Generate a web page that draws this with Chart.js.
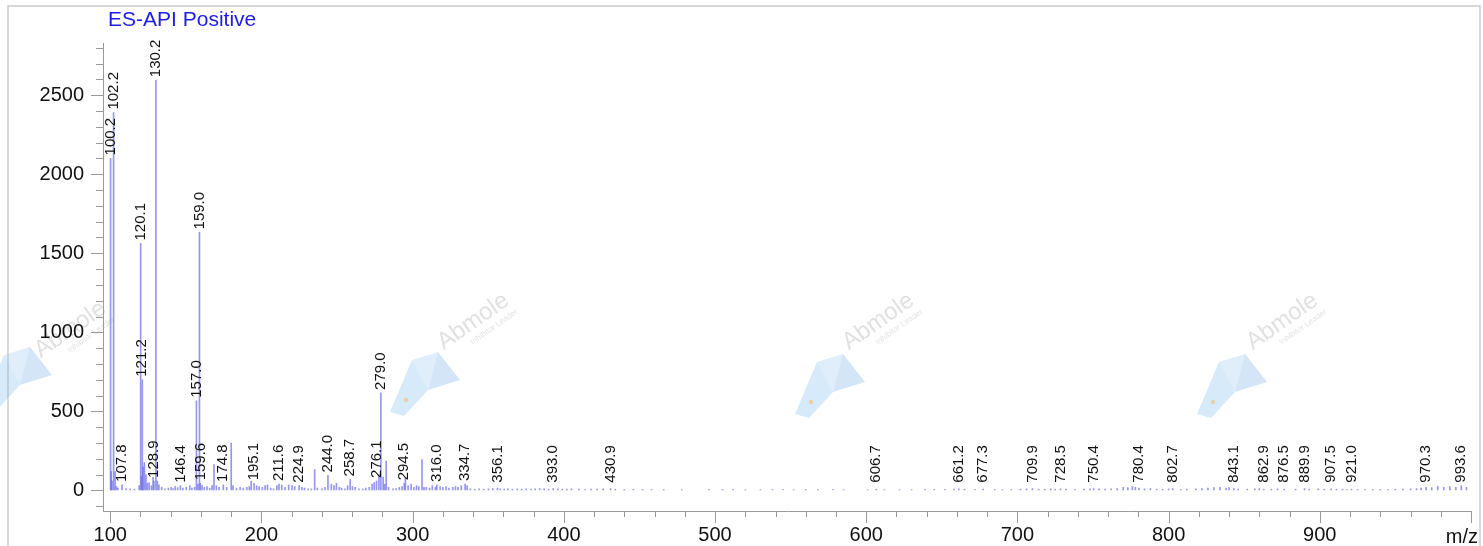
<!DOCTYPE html>
<html lang="en">
<head>
    <meta charset="UTF-8">
    <title>ES-API Positive</title>
    <script src="https://cdn.jsdelivr.net/npm/chart.js"></script>
    <style>
        html, body { margin: 0; padding: 0; background: #fff; }
        #wrap { width: 1483px; height: 546px; }
    </style>
</head>
<body>
    <div id="wrap"><canvas id="msChart"></canvas></div>

    <script>
        // peak list (m/z and intensity)
        const peakMz = [
            100.2, 100.6, 101.2, 102.2, 103.2, 104.1, 105.0, 107.8, 110.5, 113.2, 116.0, 119.1,
            120.1, 120.6, 121.2, 121.7, 122.6, 123.6, 124.5, 125.7, 127.2, 128.3, 128.9, 130.2,
            131.2, 132.2, 134.0, 136.1, 138.4, 140.2, 141.5, 143.0, 144.6, 146.4, 148.0, 150.3,
            152.6, 154.0, 155.8, 157.0, 158.0, 159.0, 159.6, 160.7, 162.2, 164.0, 165.8, 167.3,
            168.6, 170.2, 172.0, 174.8, 177.0, 180.0, 181.2, 183.5, 185.9, 188.0, 190.3, 192.0,
            193.2, 195.1, 196.8, 198.5, 200.6, 202.4, 204.0, 206.1, 208.0, 210.2, 211.6, 213.4,
            215.6, 218.0, 220.2, 222.0, 224.9, 226.8, 228.5, 231.0, 233.0, 235.2, 237.0, 240.0,
            242.0, 244.0, 246.2, 248.0, 249.6, 251.5, 253.0, 255.2, 257.0, 258.7, 260.2, 262.0,
            264.5, 267.0, 269.0, 271.3, 273.2, 274.6, 276.1, 277.7, 279.0, 280.5, 281.5, 282.5,
            284.0, 287.0, 289.0, 291.2, 293.0, 294.5, 295.2, 297.0, 299.0, 300.8, 302.6, 304.1,
            306.2, 307.5, 309.0, 311.2, 313.0, 315.0, 316.0, 318.2, 320.0, 322.1, 324.0, 326.5,
            328.3, 330.0, 332.2, 334.7, 336.0, 338.2, 341.0, 344.0, 347.0, 350.2, 353.0, 356.1,
            358.0, 360.5, 363.0, 366.0, 369.2, 372.0, 375.0, 378.3, 381.0, 384.0, 387.0, 390.0,
            393.0, 396.0, 399.0, 402.0, 405.0, 410.0, 414.0, 418.0, 422.0, 426.0, 430.9, 434.0,
            440.0, 446.0, 452.0, 458.0, 466.0, 478.0, 496.0, 505.0, 512.0, 520.0, 530.0, 538.0,
            545.0, 552.0, 560.0, 568.0, 578.0, 585.0, 601.0, 606.7, 612.0, 622.0, 630.0, 639.0,
            645.0, 652.0, 658.0, 661.2, 665.0, 672.0, 677.3, 685.0, 690.0, 696.0, 702.0, 706.0,
            709.9, 714.0, 718.0, 722.0, 725.0, 728.5, 732.0, 738.0, 744.0, 748.0, 750.4, 754.0,
            758.0, 762.0, 766.0, 770.0, 773.0, 776.0, 778.0, 780.4, 784.0, 788.0, 792.0, 796.0,
            800.0, 802.7, 808.0, 812.0, 818.0, 822.0, 826.0, 830.0, 834.0, 838.0, 840.0, 843.1,
            846.0, 852.0, 857.0, 860.0, 862.9, 868.0, 872.0, 876.5, 884.0, 889.9, 893.0, 899.0,
            903.0, 907.5, 911.0, 915.0, 918.0, 921.0, 925.0, 930.0, 935.0, 940.0, 945.0, 950.0,
            955.0, 960.0, 964.0, 967.0, 970.3, 974.0, 978.0, 982.0, 986.0, 990.0, 993.6, 997.0
        ];
        const peakIntensity = [
            2100, 120, 60, 2390, 120, 25, 15, 35, 12, 10, 8, 30,
            1562, 90, 700, 150, 176, 100, 45, 50, 30, 85, 60, 2595,
            60, 35, 20, 10, 15, 20, 12, 25, 18, 30, 15, 20,
            30, 15, 20, 567, 40, 1632, 45, 30, 20, 25, 15, 30,
            164, 30, 20, 35, 20, 300, 30, 15, 20, 15, 20, 25,
            60, 45, 30, 25, 20, 30, 35, 15, 10, 30, 40, 35,
            20, 35, 30, 25, 30, 20, 15, 10, 10, 132, 15, 10,
            20, 95, 40, 30, 45, 20, 15, 10, 30, 70, 25, 20,
            10, 10, 15, 20, 40, 50, 60, 100, 617, 85, 40, 185,
            20, 10, 12, 20, 25, 45, 80, 30, 40, 20, 30, 25,
            195, 20, 20, 15, 30, 20, 35, 25, 20, 25, 15, 20,
            25, 20, 30, 40, 30, 10, 8, 10, 8, 10, 12, 15,
            10, 8, 10, 8, 10, 8, 10, 8, 10, 12, 10, 8,
            12, 10, 8, 8, 10, 8, 6, 8, 8, 10, 12, 8,
            6, 6, 6, 6, 6, 5, 5, 6, 6, 5, 5, 6,
            6, 5, 6, 5, 5, 5, 5, 8, 5, 5, 5, 6,
            6, 6, 8, 10, 8, 6, 8, 6, 5, 6, 8, 10,
            12, 8, 8, 10, 8, 10, 8, 6, 8, 10, 12, 10,
            8, 10, 12, 20, 18, 25, 20, 15, 10, 12, 8, 8,
            10, 12, 6, 8, 10, 12, 15, 18, 20, 15, 18, 12,
            8, 8, 10, 12, 8, 8, 10, 8, 8, 12, 8, 10,
            8, 10, 8, 8, 6, 8, 6, 6, 6, 6, 6, 8,
            8, 10, 12, 15, 20, 18, 25, 20, 25, 20, 30, 20
        ];
        // peaks that carry an m/z label
        const labelledMz = [
            100.2, 102.2, 107.8, 120.1, 121.2, 128.9, 130.2, 146.4, 157.0, 159.0, 159.6, 174.8,
            195.1, 211.6, 224.9, 244.0, 258.7, 276.1, 279.0, 294.5, 316.0, 334.7, 356.1, 393.0,
            430.9, 606.7, 661.2, 677.3, 709.9, 728.5, 750.4, 780.4, 802.7, 843.1, 862.9, 876.5,
            889.9, 907.5, 921.0, 970.3, 993.6
        ];
        const xTicks = [];
        for (let v = 100; v <= 1000; v += 20) xTicks.push(v);
        const yTicks = [];
        for (let v = -100; v <= 2800; v += 100) yTicks.push(v);

        const FONT = '"Liberation Sans", Arial, sans-serif';
        const AXIS_GREY = '#9a9a9a';

        // light "Abmole" logo stamp, drawn relative to its top-left corner
        function drawStamp(ctx, lx, ly, tx, ty) {
            ctx.save();
            ctx.fillStyle = 'rgba(120,185,235,0.30)';
            ctx.beginPath();
            ctx.moveTo(lx, ly + 62); ctx.lineTo(lx + 22, ly + 10); ctx.lineTo(lx + 38, ly + 40);
            ctx.lineTo(lx + 14, ly + 66); ctx.closePath(); ctx.fill();
            ctx.fillStyle = 'rgba(150,200,240,0.30)';
            ctx.beginPath();
            ctx.moveTo(lx + 22, ly + 10); ctx.lineTo(lx + 48, ly + 2); ctx.lineTo(lx + 38, ly + 40);
            ctx.closePath(); ctx.fill();
            ctx.fillStyle = 'rgba(110,170,225,0.30)';
            ctx.beginPath();
            ctx.moveTo(lx + 48, ly + 2); ctx.lineTo(lx + 70, ly + 30); ctx.lineTo(lx + 38, ly + 40);
            ctx.closePath(); ctx.fill();
            ctx.fillStyle = 'rgba(245,190,110,0.6)';
            ctx.beginPath(); ctx.arc(lx + 16, ly + 50, 2.2, 0, Math.PI * 2); ctx.fill();

            ctx.translate(tx, ty);
            ctx.rotate(-35 * Math.PI / 180);
            ctx.fillStyle = 'rgba(120,120,120,0.22)';
            ctx.font = '24px ' + FONT;
            ctx.textAlign = 'center';
            ctx.fillText('Abmole', 0, 0);
            ctx.font = '8px ' + FONT;
            ctx.fillText('Inhibitor Leader', 14, 12);
            ctx.restore();
        }

        // frame, title, watermarks
        const decorPlugin = {
            id: 'decor',
            beforeDraw(chart) {
                const ctx = chart.ctx;
                ctx.save();
                ctx.fillStyle = '#fff';
                ctx.fillRect(0, 0, chart.width, chart.height);
                ctx.strokeStyle = '#cccccc';
                ctx.lineWidth = 1.5;
                ctx.strokeRect(8, 6, 1472, 600);

                drawStamp(ctx, -18, 345, 74, 335);
                drawStamp(ctx, 390, 350, 477, 327);
                drawStamp(ctx, 795, 352, 882, 327);
                drawStamp(ctx, 1197, 352, 1286, 327);

                ctx.fillStyle = '#1c1ce6';
                ctx.font = '21px ' + FONT;
                ctx.textBaseline = 'alphabetic';
                ctx.textAlign = 'left';
                ctx.fillText('ES-API Positive', 108, 26);
                ctx.restore();
            },
            afterDraw(chart) {
                const ctx = chart.ctx;
                const xs = chart.scales.x, ys = chart.scales.y;
                ctx.save();
                ctx.strokeStyle = AXIS_GREY;
                ctx.lineWidth = 1;
                // y tick marks, longer on labelled values
                yTicks.forEach(v => {
                    const py = Math.round(ys.getPixelForValue(v)) + 0.5;
                    const len = v % 500 === 0 ? 12 : 7;
                    ctx.beginPath();
                    ctx.moveTo(ys.right - len, py); ctx.lineTo(ys.right, py); ctx.stroke();
                });
                xTicks.forEach(v => {
                    const px = Math.round(xs.getPixelForValue(v)) + 0.5;
                    const len = v % 100 === 0 ? 12 : 6;
                    ctx.beginPath();
                    ctx.moveTo(px, xs.top); ctx.lineTo(px, xs.top + len); ctx.stroke();
                });
                ctx.fillStyle = '#111';
                ctx.font = '20px ' + FONT;
                ctx.textAlign = 'right';
                ctx.textBaseline = 'alphabetic';
                ctx.fillText('m/z', 1478, 543);
                ctx.restore();
            }
        };

        // rotated m/z labels above the picked peaks
        const peakLabelPlugin = {
            id: 'peakLabels',
            afterDatasetsDraw(chart) {
                const ctx = chart.ctx;
                const xs = chart.scales.x, ys = chart.scales.y;
                ctx.save();
                ctx.fillStyle = '#111';
                ctx.font = '15px ' + FONT;
                ctx.textAlign = 'left';
                ctx.textBaseline = 'middle';
                labelledMz.forEach(mz => {
                    const i = peakMz.indexOf(mz);
                    const val = i >= 0 ? peakIntensity[i] : 0;
                    const px = xs.getPixelForValue(mz);
                    const py = ys.getPixelForValue(Math.max(val, 30)) - 3;
                    ctx.save();
                    ctx.translate(px, py);
                    ctx.rotate(-Math.PI / 2);
                    ctx.fillText(mz.toFixed(1), 0, 0);
                    ctx.restore();
                });
                ctx.restore();
            }
        };

        const ctx = document.getElementById('msChart').getContext('2d');
        const msChart = new Chart(ctx, {
            type: 'bar',
            data: {
                datasets: [{
                    label: 'ES-API Positive',
                    data: peakMz.map((mz, i) => ({ x: mz, y: peakIntensity[i] })),
                    backgroundColor: 'rgba(105,105,228,0.7)',
                    borderWidth: 0,
                    barThickness: 1
                }]
            },
            options: {
                responsive: true,
                maintainAspectRatio: false,
                animation: false,
                layout: { padding: { top: 43, right: 5, left: 0, bottom: 0 } },
                plugins: {
                    legend: { display: false },
                    tooltip: { enabled: false },
                    title: { display: false }
                },
                scales: {
                    x: {
                        type: 'linear',
                        min: 95.2,
                        max: 1000,
                        offset: false,
                        afterBuildTicks: axis => { axis.ticks = xTicks.map(v => ({ value: v })); },
                        afterFit: scale => { scale.height = 35; },
                        grid: { display: true, drawOnChartArea: false, drawTicks: false, offset: false },
                        border: { display: true, color: AXIS_GREY, width: 1 },
                        ticks: {
                            autoSkip: false,
                            maxRotation: 0,
                            padding: 12,
                            color: '#111',
                            font: { family: FONT, size: 20 },
                            callback: v => (v % 100 === 0 && v < 1000) ? String(v) : ''
                        }
                    },
                    y: {
                        min: -130,
                        max: 2830,
                        afterBuildTicks: axis => { axis.ticks = yTicks.map(v => ({ value: v })); },
                        afterFit: scale => { scale.width = 103; },
                        grid: { display: true, drawOnChartArea: false, drawTicks: false },
                        border: { display: true, color: AXIS_GREY, width: 1 },
                        ticks: {
                            autoSkip: false,
                            padding: 19,
                            color: '#111',
                            font: { family: FONT, size: 20 },
                            callback: v => v % 500 === 0 ? String(v) : ''
                        }
                    }
                }
            },
            plugins: [decorPlugin, peakLabelPlugin]
        });
    </script>
</body>
</html>
